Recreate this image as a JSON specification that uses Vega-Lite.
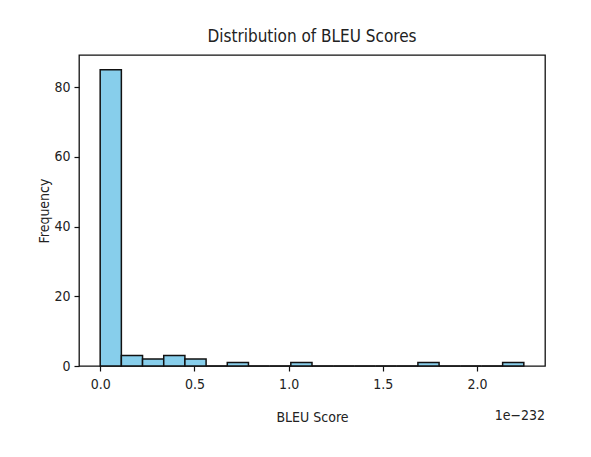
{
  "$schema": "https://vega.github.io/schema/vega-lite/v6.json",
  "autosize": {"type": "none"},
  "width": 466,
  "height": 311,
  "padding": {"left": 79, "top": 55, "right": 46, "bottom": 91},
  "background": "white",
  "config": {
    "font": "DejaVu Sans Condensed, Liberation Sans Narrow, DejaVu Sans",
    "view": {"stroke": "#111", "strokeWidth": 1.3},
    "axis": {
      "domainColor": "#111",
      "tickColor": "#111",
      "tickSize": 5,
      "tickWidth": 1.2,
      "labelColor": "#222",
      "titleColor": "#222",
      "labelFontSize": 14,
      "titleFontSize": 14,
      "titleFontWeight": "normal",
      "grid": false
    }
  },
  "title": {
    "text": "Distribution of BLEU Scores",
    "fontSize": 17,
    "fontWeight": "normal",
    "color": "#222",
    "anchor": "middle",
    "offset": 9
  },
  "layer": [
    {
      "data": {
        "values": [
          {"bin_start": 0.0, "bin_end": 0.1124, "count": 85},
          {"bin_start": 0.1124, "bin_end": 0.2248, "count": 3},
          {"bin_start": 0.2248, "bin_end": 0.3372, "count": 2},
          {"bin_start": 0.3372, "bin_end": 0.4496, "count": 3},
          {"bin_start": 0.4496, "bin_end": 0.562, "count": 2},
          {"bin_start": 0.562, "bin_end": 0.6744, "count": 0},
          {"bin_start": 0.6744, "bin_end": 0.7868, "count": 1},
          {"bin_start": 0.7868, "bin_end": 0.8992, "count": 0},
          {"bin_start": 0.8992, "bin_end": 1.0116, "count": 0},
          {"bin_start": 1.0116, "bin_end": 1.124, "count": 1},
          {"bin_start": 1.124, "bin_end": 1.2364, "count": 0},
          {"bin_start": 1.2364, "bin_end": 1.3488, "count": 0},
          {"bin_start": 1.3488, "bin_end": 1.4612, "count": 0},
          {"bin_start": 1.4612, "bin_end": 1.5736, "count": 0},
          {"bin_start": 1.5736, "bin_end": 1.686, "count": 0},
          {"bin_start": 1.686, "bin_end": 1.7984, "count": 1},
          {"bin_start": 1.7984, "bin_end": 1.9108, "count": 0},
          {"bin_start": 1.9108, "bin_end": 2.0232, "count": 0},
          {"bin_start": 2.0232, "bin_end": 2.1356, "count": 0},
          {"bin_start": 2.1356, "bin_end": 2.248, "count": 1}
        ]
      },
      "mark": {"type": "rect", "fill": "#87CEEB", "stroke": "#111", "strokeWidth": 1.5},
      "encoding": {
        "x": {
          "field": "bin_start",
          "type": "quantitative",
          "scale": {"domain": [-0.1124, 2.3604], "nice": false, "zero": false},
          "axis": {
            "values": [0, 0.5, 1, 1.5, 2],
            "format": ".1f",
            "title": "BLEU Score",
            "labelPadding": 6,
            "titlePadding": 19,
            "domain": false
          }
        },
        "x2": {"field": "bin_end"},
        "y": {
          "field": "count",
          "type": "quantitative",
          "scale": {"domain": [0, 89.25], "nice": false},
          "axis": {
            "values": [0, 20, 40, 60, 80],
            "title": "Frequency",
            "labelPadding": 4,
            "titlePadding": 2,
            "domain": false
          }
        },
        "y2": {"datum": 0}
      }
    },
    {
      "data": {"values": [{"label": "1e−232", "x": 2.3604}]},
      "mark": {"type": "text", "align": "right", "baseline": "middle", "dy": 50, "fontSize": 14, "color": "#222"},
      "encoding": {
        "x": {"field": "x", "type": "quantitative"},
        "y": {"datum": 0},
        "text": {"field": "label"}
      }
    }
  ]
}
